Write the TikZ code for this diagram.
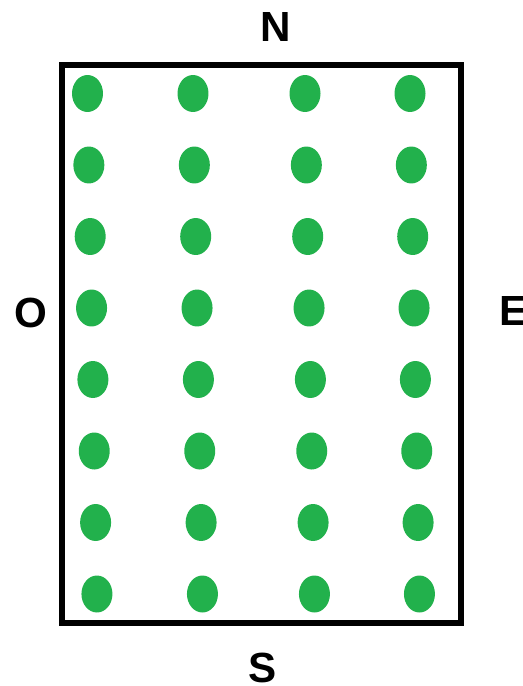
\documentclass[tikz,border=0pt]{standalone}
\usepackage{fontspec}
\setmainfont{Liberation Sans}
\usetikzlibrary{shapes.geometric, positioning}
\definecolor{cDot}{RGB}{34,177,76}
\tikzset{
	plant/.style ={ellipse, fill=cDot, minimum width=0.62cm, minimum height=0.74cm, inner sep=0pt},
	field/.style ={draw=black, line width=3.4pt},
	compass/.style={font=\fontsize{24}{28}\selectfont\bfseries, inner sep=0pt},
}

\begin{document}
\begin{tikzpicture}[x=0.02cm, y=-0.02cm]
	\useasboundingbox (0,0) rectangle (523,686);
	% field border
	\draw[field] (62,65) rectangle (461,623);
	% rows of plants, slightly slanted
	\foreach \r in {0,...,7} {
		\foreach \c/\xx in {1/87.5, 2/193, 3/305, 4/410} {
			\node[plant] (p\r\c) at ({\xx+1.35*\r}, {93.5+71.5*\r}) {};
		}
	}
	% cardinal points
	\node[compass] (north) at (275.5,27) {N};
	\node[compass] (south) at (263,668) {S};
	\node[compass] (west) at (31,313) {O};
	\node[compass, anchor=west] (east) at (499,311) {E};
\end{tikzpicture}
\end{document}
